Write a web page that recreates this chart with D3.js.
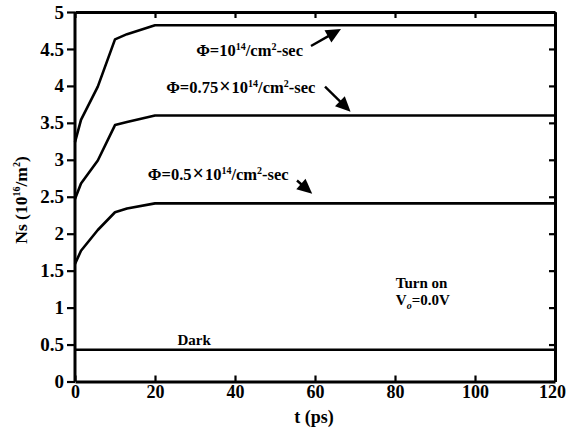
<!DOCTYPE html>
<html><head><meta charset="utf-8">
<script src="https://cdn.jsdelivr.net/npm/d3@7"></script>
<style>
html,body{margin:0;padding:0;background:#fff;}
svg{display:block;}
text{font-family:"Liberation Serif","Times New Roman",serif;font-weight:bold;fill:#000;}
</style></head>
<body><svg id="c" width="568" height="435"></svg>
<script>
const tPs = [0, 1.5, 5.7, 10, 13, 20, 120];
const nsPhi1 = [3.24, 3.54, 3.99, 4.63, 4.70, 4.82, 4.82];
const nsPhi075 = [2.47, 2.68, 2.99, 3.47, 3.51, 3.60, 3.60];
const nsPhi05 = [1.59, 1.77, 2.05, 2.29, 2.34, 2.41, 2.41];
const nsDark = [0.43, 0.43, 0.43, 0.43, 0.43, 0.43, 0.43];
const xTicks = [0, 20, 40, 60, 80, 100, 120];
const yTicks = [0, 0.5, 1, 1.5, 2, 2.5, 3, 3.5, 4, 4.5, 5];

const svg = d3.select("#c");
const x = d3.scaleLinear().domain([0, 120]).range([75, 555]);
const y = d3.scaleLinear().domain([0, 5]).range([381.5, 12]);
const fmt = d => d3.format("")(d);

// axes
const gL = svg.append("g").attr("transform", `translate(${x(0)},0)`)
  .call(d3.axisLeft(y).tickValues(yTicks).tickSize(8).tickPadding(3).tickFormat(fmt));
const gB = svg.append("g").attr("transform", `translate(0,${y(0)})`)
  .call(d3.axisBottom(x).tickValues(xTicks).tickSizeInner(-6).tickSizeOuter(0).tickPadding(4).tickFormat(fmt));
const gT = svg.append("g").attr("transform", `translate(0,${y(5)})`)
  .call(d3.axisTop(x).tickValues(xTicks).tickSizeInner(-6).tickSizeOuter(0).tickFormat(""));
const gR = svg.append("g").attr("transform", `translate(${x(120)},0)`)
  .call(d3.axisRight(y).tickValues(yTicks).tickSizeInner(-6).tickSizeOuter(0).tickFormat(""));
[gL, gB, gT, gR].forEach(g => {
  g.selectAll(".domain").attr("stroke", "#000").attr("stroke-width", 3);
  g.selectAll(".tick line").attr("stroke", "#000").attr("stroke-width", 2.2);
  g.selectAll(".tick text").style("font-size", "19px").style("font-family", "Liberation Serif").style("font-weight", "bold").attr("fill", "#000");
});
gB.selectAll(".tick text").style("font-size", "18px");
gB.selectAll(".tick").filter(d => d === 120).select("text").attr("dx", -3);
gL.select(".domain").attr("d", `M0,${y(5)}V${y(0)}`);

// lines
const line = d3.line().x((d, i) => x(tPs[i])).y(d => y(d));
[nsPhi1, nsPhi075, nsPhi05, nsDark].forEach(s => {
  svg.append("path").datum(s).attr("d", line).attr("fill", "none")
    .attr("stroke", "#000").attr("stroke-width", 2.6).attr("stroke-linejoin", "round");
});

// axis titles
svg.append("text").attr("x", 314).attr("y", 423).attr("text-anchor", "middle")
  .style("font-size", "18px").text("t (ps)");
const yt = svg.append("text").attr("transform", "translate(27,200) rotate(-90)")
  .attr("text-anchor", "middle").style("font-size", "17.5px");
yt.append("tspan").text("Ns (10");
yt.append("tspan").attr("dy", -7).style("font-size", "10px").text("16");
yt.append("tspan").attr("dy", 7).text("/m");
yt.append("tspan").attr("dy", -7).style("font-size", "10px").text("2");
yt.append("tspan").attr("dy", 7).text(")");

// annotations
function phiLabel(tx, ny, pre, mult) {
  const t = svg.append("text").attr("x", x(tx)).attr("y", y(ny)).style("font-size", "16.5px");
  t.append("tspan").text(pre);
  if (mult) {
    t.append("tspan").text(mult);
    t.append("tspan").attr("dx", 1).style("font-size", "20px").text("\u00D7");
    t.append("tspan").attr("dx", 1).text("10");
  }
  t.append("tspan").attr("dy", -6).style("font-size", "10px").text("14");
  t.append("tspan").attr("dy", 6).text("/cm");
  t.append("tspan").attr("dy", -6).style("font-size", "10px").text("2");
  t.append("tspan").attr("dy", 6).text("-sec");
}
phiLabel(30.3, 4.40, "\u03A6=10", null);
phiLabel(22.8, 3.90, "\u03A6=", "0.75");
phiLabel(18.2, 2.72, "\u03A6=", "0.5");

function arrow(x0, y0, x1, y1) {
  const X0 = x(x0), Y0 = y(y0), X1 = x(x1), Y1 = y(y1);
  const a = Math.atan2(Y1 - Y0, X1 - X0), L = 15, W = 7;
  const bx = X1 - L * Math.cos(a), by = Y1 - L * Math.sin(a);
  svg.append("line").attr("x1", X0).attr("y1", Y0).attr("x2", bx + 2 * Math.cos(a)).attr("y2", by + 2 * Math.sin(a))
    .attr("stroke", "#000").attr("stroke-width", 2.4);
  const p = [[X1, Y1], [bx + W * Math.sin(a), by - W * Math.cos(a)], [bx - W * Math.sin(a), by + W * Math.cos(a)]];
  svg.append("path").attr("d", "M" + p.join("L") + "Z").attr("fill", "#000");
}
arrow(59.0, 4.54, 66.5, 4.77);
arrow(62.5, 3.99, 68.9, 3.65);
arrow(55.5, 2.72, 59.3, 2.54);

svg.append("text").attr("x", x(80.2)).attr("y", y(1.26)).style("font-size", "15px").text("Turn on");
const vt = svg.append("text").attr("x", x(80.2)).attr("y", y(1.03)).style("font-size", "15px");
vt.append("tspan").text("V");
vt.append("tspan").attr("dy", 4).style("font-size", "10px").style("font-style", "italic").text("o");
vt.append("tspan").attr("dy", -4).text("=0.0V");
svg.append("text").attr("x", x(25.6)).attr("y", y(0.50)).style("font-size", "15px").text("Dark");
</script></body></html>
